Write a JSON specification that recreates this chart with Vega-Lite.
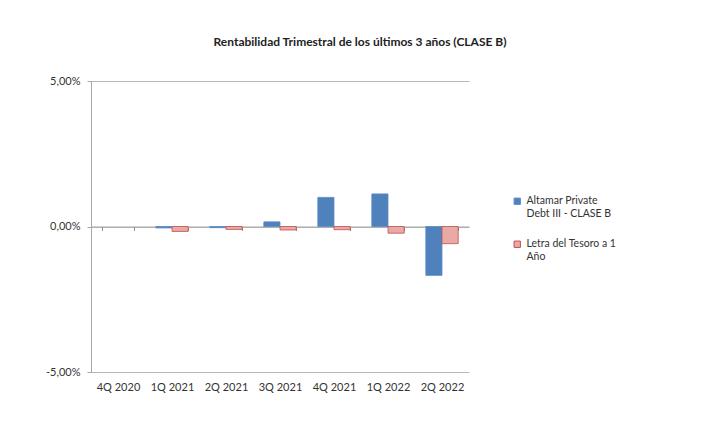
{
  "$schema": "https://vega.github.io/schema/vega-lite/v6.json",
  "autosize": {"type": "none"},
  "width": 378,
  "height": 291,
  "padding": {"left": 91, "top": 81, "right": 243, "bottom": 58},
  "background": "white",
  "config": {
    "font": "Lato",
    "view": {"stroke": null},
    "axis": {"labelFont": "Lato", "labelFontSize": 11, "labelColor": "#333333"}
  },
  "title": {
    "text": "Rentabilidad Trimestral de los últimos 3 años (CLASE B)",
    "font": "Lato",
    "fontSize": 12,
    "fontWeight": "bold",
    "color": "#222222",
    "anchor": "middle",
    "dx": 80,
    "offset": 26
  },
  "data": {
    "values": [
      {"quarter": "4Q 2020", "series": "Altamar Private Debt III - CLASE B", "value": null},
      {"quarter": "1Q 2021", "series": "Altamar Private Debt III - CLASE B", "value": -0.0005},
      {"quarter": "2Q 2021", "series": "Altamar Private Debt III - CLASE B", "value": -0.0004},
      {"quarter": "3Q 2021", "series": "Altamar Private Debt III - CLASE B", "value": 0.0016},
      {"quarter": "4Q 2021", "series": "Altamar Private Debt III - CLASE B", "value": 0.0100},
      {"quarter": "1Q 2022", "series": "Altamar Private Debt III - CLASE B", "value": 0.0112},
      {"quarter": "2Q 2022", "series": "Altamar Private Debt III - CLASE B", "value": -0.0168},
      {"quarter": "4Q 2020", "series": "Letra del Tesoro a 1 Año", "value": null},
      {"quarter": "1Q 2021", "series": "Letra del Tesoro a 1 Año", "value": -0.0017},
      {"quarter": "2Q 2021", "series": "Letra del Tesoro a 1 Año", "value": -0.0010},
      {"quarter": "3Q 2021", "series": "Letra del Tesoro a 1 Año", "value": -0.0012},
      {"quarter": "4Q 2021", "series": "Letra del Tesoro a 1 Año", "value": -0.0011},
      {"quarter": "1Q 2022", "series": "Letra del Tesoro a 1 Año", "value": -0.0023},
      {"quarter": "2Q 2022", "series": "Letra del Tesoro a 1 Año", "value": -0.0059}
    ]
  },
  "mark": {"type": "bar", "strokeWidth": 0.8},
  "encoding": {
    "x": {
      "field": "quarter",
      "type": "nominal",
      "sort": null,
      "scale": {
        "domain": ["4Q 2020", "1Q 2021", "2Q 2021", "3Q 2021", "4Q 2021", "1Q 2022", "2Q 2022"],
        "paddingInner": 0.4,
        "paddingOuter": 0.2
      },
      "axis": {
        "title": null,
        "labelAngle": 0,
        "offset": -145.5,
        "tickBand": "extent",
        "domainColor": "#a6a6a6",
        "tickColor": "#8c8c8c",
        "tickSize": 4,
        "labelPadding": 150.5
      }
    },
    "xOffset": {"field": "series", "type": "nominal"},
    "y": {
      "field": "value",
      "type": "quantitative",
      "scale": {"domain": [-0.05, 0.05], "nice": false},
      "axis": {
        "title": null,
        "values": [-0.05, 0, 0.05],
        "labelExpr": "replace(replace(format(datum.value, '.2%'), '.', ','), '−', '-')",
        "domainColor": "#a6a6a6",
        "tickColor": "#a6a6a6",
        "gridColor": "#b8b8b8",
        "tickSize": 4,
        "labelPadding": 7
      }
    },
    "color": {
      "field": "series",
      "type": "nominal",
      "scale": {"range": ["#4f81bd", "#e9a9a7"]},
      "legend": {
        "title": null,
        "orient": "none",
        "legendX": 421,
        "legendY": 115,
        "symbolType": "square",
        "symbolSize": 40,
        "symbolStrokeWidth": 1,
        "labelFont": "Lato",
        "labelFontSize": 10.5,
        "labelColor": "#333333",
        "rowPadding": 19,
        "labelOffset": 4,
        "labelExpr": "datum.label == 'Altamar Private Debt III - CLASE B' ? ['Altamar Private', 'Debt III - CLASE B'] : ['Letra del Tesoro a 1', 'Año']"
      }
    },
    "stroke": {
      "field": "series",
      "type": "nominal",
      "scale": {"range": ["#5b8cc6", "#c0504d"]},
      "legend": null
    }
  }
}
